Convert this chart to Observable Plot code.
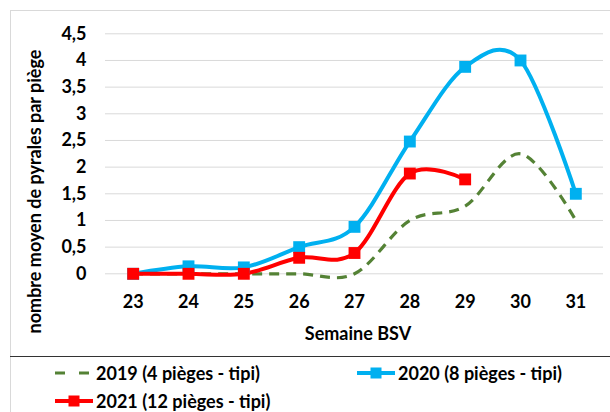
<!DOCTYPE html>
<html>
<head>
<meta charset="utf-8">
<script src="https://cdn.jsdelivr.net/npm/d3@7"></script>
<script src="https://cdn.jsdelivr.net/npm/@observablehq/plot@0.6"></script>
<style>
  html, body { margin: 0; padding: 0; background: #fff; }
  #wrap { position: relative; width: 610px; height: 412px; overflow: hidden; font-family: Lato, "Open Sans", sans-serif; font-weight: bold; }
  #box { position: absolute; left: 10px; top: 10px; width: 620px; height: 420px; border-left: 1px solid #d9d9d9; border-top: 1px solid #d9d9d9; box-sizing: border-box; }
  #sep { position: absolute; left: 10px; top: 356px; width: 600px; height: 0; border-top: 1.5px solid #333; }
  #chart { position: absolute; left: 0; top: 0; }
  .leg { position: absolute; display: flex; align-items: center; font-size: 18px; line-height: 20px; color: #000; white-space: nowrap; }
  .leg svg { display: block; margin-right: 3px; }
</style>
</head>
<body>
<div id="wrap">
  <div id="box"></div>
  <div id="chart"></div>
  <div id="sep"></div>
  <div id="legend"></div>
</div>
<script>
const weeks = [23, 24, 25, 26, 27, 28, 29, 30, 31];
const values2019 = [0, 0, 0, 0, 0, 1.0, 1.27, 2.25, 1.0];
const values2020 = [0, 0.14, 0.12, 0.5, 0.88, 2.48, 3.88, 4.0, 1.5];
const values2021 = [0, 0, 0, 0.3, 0.39, 1.88, 1.77];
const yTicks = [0, 0.5, 1, 1.5, 2, 2.5, 3, 3.5, 4, 4.5];
const seriesNames = ["2019 (4 pièges - tipi)", "2020 (8 pièges - tipi)", "2021 (12 pièges - tipi)"];
const colors = ["#548235", "#00B0F0", "#FF0000"];
const yTitle = "nombre moyen de pyrales par piège";
const xTitle = "Semaine BSV";

const rows = (vals) => vals.map((v, i) => ({week: weeks[i], value: v}));
const d2019 = rows(values2019), d2020 = rows(values2020), d2021 = rows(values2021);
const fmt = d => String(d).replace(".", ",");

const plot = Plot.plot({
  width: 610,
  height: 357,
  marginLeft: 105,
  marginRight: 7,
  marginTop: 33.3,
  marginBottom: 83.7,
  style: {fontFamily: "Lato, 'Open Sans', sans-serif", fontSize: "18px", fontWeight: "bold", color: "#000", background: "transparent", overflow: "visible"},
  x: {domain: [22.5, 31.5]},
  y: {domain: [0, 4.5]},
  marks: [
    Plot.gridY(yTicks, {stroke: "#d9d9d9", strokeOpacity: 1, strokeWidth: 1}),
    Plot.axisY(yTicks, {tickSize: 0, tickPadding: 19, tickFormat: fmt, label: null, fill: "#000"}),
    Plot.axisX(weeks, {tickSize: 0, tickPadding: 21, tickFormat: d => String(d), label: null, fill: "#000"}),
    Plot.text([yTitle], {frameAnchor: "left", dx: -70, dy: 37.7, rotate: -90, textAnchor: "middle", fill: "#000", fontSize: 18, fontWeight: "bold"}),
    Plot.text([xTitle], {frameAnchor: "bottom", dx: 3.5, dy: 65.7, textAnchor: "middle", fill: "#000", fontSize: 18, fontWeight: "bold"}),
    Plot.line(d2019, {x: "week", y: "value", stroke: colors[0], strokeWidth: 3.2, strokeDasharray: "10,7", strokeLinecap: "butt", curve: "cardinal"}),
    Plot.line(d2020, {x: "week", y: "value", stroke: colors[1], strokeWidth: 4, curve: "cardinal"}),
    Plot.line(d2021, {x: "week", y: "value", stroke: colors[2], strokeWidth: 4, curve: "cardinal"}),
    Plot.dot(d2020, {x: "week", y: "value", symbol: "square", r: 6.7, fill: colors[1], stroke: "none"}),
    Plot.dot(d2021, {x: "week", y: "value", symbol: "square", r: 6.7, fill: colors[2], stroke: "none"})
  ]
});
document.getElementById("chart").appendChild(plot);

// legend
const legend = document.getElementById("legend");
const legPos = [[55, 373.3], [357, 373.3], [55, 401.2]];
seriesNames.forEach((name, i) => {
  const div = document.createElement("div");
  div.className = "leg";
  div.style.left = legPos[i][0] + "px";
  div.style.top = (legPos[i][1] - 10) + "px";
  div.style.height = "20px";
  const ns = "http://www.w3.org/2000/svg";
  const s = document.createElementNS(ns, "svg");
  s.setAttribute("width", 38); s.setAttribute("height", 20);
  const ln = document.createElementNS(ns, "line");
  ln.setAttribute("x1", 0); ln.setAttribute("x2", 38);
  ln.setAttribute("y1", 10); ln.setAttribute("y2", 10);
  ln.setAttribute("stroke", colors[i]);
  if (i === 0) { ln.setAttribute("stroke-width", 3.2); ln.setAttribute("stroke-dasharray", "10,14"); }
  else { ln.setAttribute("stroke-width", 4); }
  s.appendChild(ln);
  if (i > 0) {
    const r = document.createElementNS(ns, "rect");
    r.setAttribute("x", 13.5); r.setAttribute("y", 4.5); r.setAttribute("width", 11); r.setAttribute("height", 11);
    r.setAttribute("fill", colors[i]);
    s.appendChild(r);
  }
  div.appendChild(s);
  const t = document.createElement("span");
  t.textContent = name;
  div.appendChild(t);
  legend.appendChild(div);
});
</script>
</body>
</html>
